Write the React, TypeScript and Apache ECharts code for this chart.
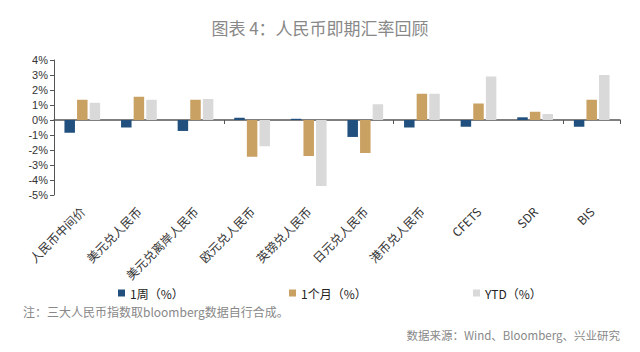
import React, { useEffect, useRef } from "react";
import * as echarts from "echarts";

const categories = [
  "人民币中间价",
  "美元兑人民币",
  "美元兑离岸人民币",
  "欧元兑人民币",
  "英镑兑人民币",
  "日元兑人民币",
  "港币兑人民币",
  "CFETS",
  "SDR",
  "BIS",
];
const seriesNames = ["1周（%）", "1个月（%）", "YTD（%）"];
const week = [-0.85, -0.5, -0.73, 0.15, 0.08, -1.13, -0.5, -0.45, 0.18, -0.45];
const month = [1.35, 1.55, 1.35, -2.45, -2.4, -2.2, 1.75, 1.1, 0.55, 1.35];
const ytd = [1.15, 1.35, 1.4, -1.75, -4.4, 1.05, 1.75, 2.9, 0.4, 3.0];
const colors = ["#22507e", "#c9a163", "#d9d9d9"];

const FONT = '"Noto Sans CJK SC", "Noto Sans", sans-serif';

export default function App() {
  const ref = useRef<HTMLDivElement>(null);
  useEffect(() => {
    if (!ref.current) return;
    const chart = echarts.init(ref.current, undefined, { renderer: "svg" });
    const values = [week, month, ytd];
    const legendLefts = [113, 284, 468];
    chart.setOption({
      animation: false,
      textStyle: { fontFamily: FONT },
      grid: { left: 54, right: 20, top: 60, bottom: 157, containLabel: false },
      legend: seriesNames.map((n, i) => ({
        data: [n],
        left: legendLefts[i],
        top: 282,
        icon: "rect",
        itemWidth: 7,
        itemHeight: 7,
        itemGap: 2,
        selectedMode: false,
        textStyle: { fontSize: 12, color: "#222", fontFamily: FONT },
      })),
      xAxis: [
        {
          type: "category",
          data: categories,
          position: "bottom",
          axisLine: { show: false, onZero: false },
          axisTick: { show: false },
          axisLabel: {
            rotate: 45,
            interval: 0,
            margin: 14,
            fontSize: 12,
            color: "#333",
            fontFamily: FONT,
          },
        },
        {
          type: "category",
          data: categories,
          position: "bottom",
          axisLine: { show: true, onZero: true, lineStyle: { color: "#555", width: 1.5 } },
          axisTick: { show: true, length: 4, inside: false, lineStyle: { color: "#555" } },
          axisLabel: { show: false },
        },
      ],
      yAxis: {
        type: "value",
        min: -5,
        max: 4,
        interval: 1,
        axisLine: { show: true, lineStyle: { color: "#555" } },
        axisTick: { show: true, length: 4, lineStyle: { color: "#555" } },
        splitLine: { show: false },
        axisLabel: {
          formatter: (v: number) => `${v}%`,
          fontSize: 11,
          color: "#333",
          margin: 6,
          fontFamily: "Liberation Sans, Arial, sans-serif",
        },
      },
      series: seriesNames.map((n, i) => ({
        name: n,
        type: "bar",
        xAxisIndex: 0,
        data: values[i],
        barWidth: 10.5,
        barGap: "20%",
        itemStyle: { color: colors[i] },
      })),
      graphic: [
        {
          type: "text",
          left: "center",
          top: 19,
          style: {
            text: "图表 4：人民币即期汇率回顾",
            fontSize: 17,
            fill: "#888",
            fontFamily: FONT,
          },
        },
        {
          type: "text",
          left: 23,
          top: 305,
          style: {
            text: "注：三大人民币指数取bloomberg数据自行合成。",
            fontSize: 12,
            fill: "#888",
            fontFamily: FONT,
          },
        },
        {
          type: "text",
          right: 20,
          top: 329,
          style: {
            text: "数据来源：Wind、Bloomberg、兴业研究",
            fontSize: 11.5,
            fill: "#888",
            fontFamily: FONT,
          },
        },
      ],
    });
    return () => chart.dispose();
  }, []);
  return (
    <div
      ref={ref}
      style={{ position: "absolute", left: 0, top: 0, width: 640, height: 352, background: "#fff" }}
    />
  );
}
